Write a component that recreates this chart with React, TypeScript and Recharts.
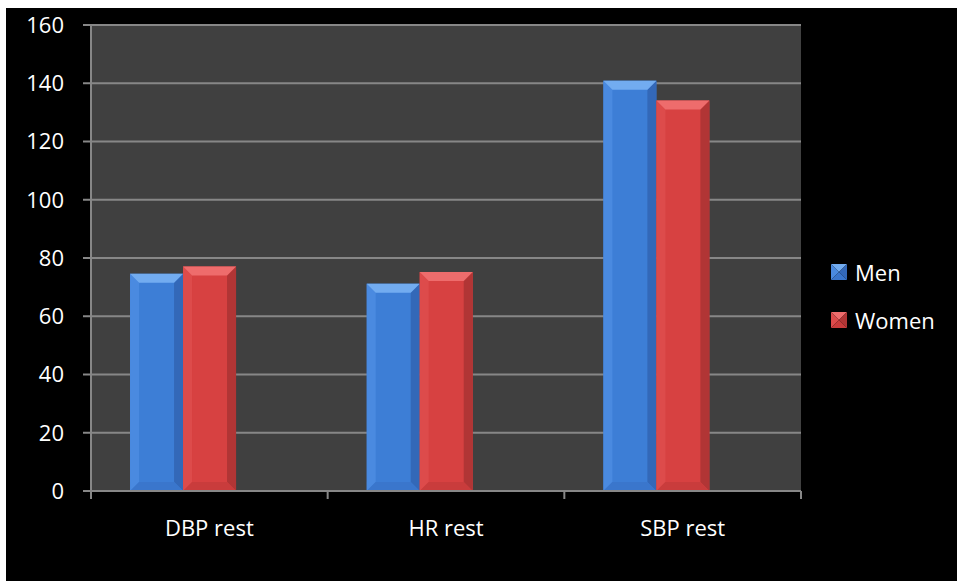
import React from 'react';
import { BarChart, Bar, XAxis, YAxis, CartesianGrid } from 'recharts';

const categories = ['DBP rest', 'HR rest', 'SBP rest'];
const menValues = [74.6, 71.2, 140.9];
const womenValues = [77.1, 75.2, 134.1];
const yTicks = [0, 20, 40, 60, 80, 100, 120, 140, 160];

const data = categories.map((name, i) => ({
  name,
  Men: menValues[i],
  Women: womenValues[i],
}));

const CHART_W = 951;
const CHART_H = 573;
const MARGIN = { top: 17, right: 156, bottom: 50, left: 25 };
const Y_AXIS_W = 60;
const PLOT_W = CHART_W - MARGIN.left - MARGIN.right - Y_AXIS_W;
const TICK_SIZE = 8;
const TICK_MARGIN = 21;
const FONT = '"Open Sans", "DejaVu Sans", sans-serif';
const GRID = '#878787';

const PALETTE = {
  blue: { face: '#3d7ed6', light: '#4a8ae0', top: '#72acf0', dark: '#3368b8', bottom: '#3a76cc' },
  red: { face: '#d74141', light: '#dd4b4b', top: '#ee6c6c', dark: '#b13535', bottom: '#c93c3c' },
};

type Tone = typeof PALETTE.blue;

const makeBevelBar = (tone: Tone) => (props: any) => {
  const { x, y, width, height } = props;
  if (!width || !height || height <= 0) return null;
  const b = Math.min(9, width / 4, height / 2);
  const r = x + width;
  const btm = y + height;
  return (
    <g>
      <rect x={x} y={y} width={width} height={height} fill={tone.face} />
      <polygon points={`${x},${y} ${x + b},${y + b} ${x + b},${btm - b} ${x},${btm}`} fill={tone.light} />
      <polygon points={`${r},${y} ${r - b},${y + b} ${r - b},${btm - b} ${r},${btm}`} fill={tone.dark} />
      <polygon points={`${x},${btm} ${x + b},${btm - b} ${r - b},${btm - b} ${r},${btm}`} fill={tone.bottom} />
      <polygon points={`${x},${y} ${r},${y} ${r - b},${y + b} ${x + b},${y + b}`} fill={tone.top} />
    </g>
  );
};

const MenBar = makeBevelBar(PALETTE.blue);
const WomenBar = makeBevelBar(PALETTE.red);

const LegendIcon = ({ tone }: { tone: Tone }) => (
  <svg width={16} height={16} style={{ display: 'block' }}>
    <polygon points="0,0 16,0 8,8" fill={tone.top} />
    <polygon points="0,0 8,8 0,16" fill={tone.light} />
    <polygon points="16,0 8,8 16,16" fill={tone.dark} />
    <polygon points="0,16 8,8 16,16" fill={tone.bottom} />
  </svg>
);

const legendItems = [
  { label: 'Men', tone: PALETTE.blue },
  { label: 'Women', tone: PALETTE.red },
];

const ChartLegend = () => (
  <div
    style={{
      position: 'absolute',
      left: 825,
      top: 240,
      width: 120,
      fontFamily: FONT,
      fontSize: 22,
      color: '#fff',
    }}
  >
    {legendItems.map((item) => (
      <div key={item.label} style={{ display: 'flex', alignItems: 'center', height: 48 }}>
        <LegendIcon tone={item.tone} />
        <span style={{ marginLeft: 8, lineHeight: '24px' }}>{item.label}</span>
      </div>
    ))}
  </div>
);

const CategoryTick = (props: any) => {
  const { x, y, payload, index } = props;
  const bw = PLOT_W / categories.length;
  const axisY = y - TICK_SIZE - TICK_MARGIN;
  const last = index === categories.length - 1;
  return (
    <g>
      <line x1={x - bw / 2} x2={x - bw / 2} y1={axisY} y2={axisY + TICK_SIZE} stroke={GRID} strokeWidth={2} />
      {last && (
        <line x1={x + bw / 2} x2={x + bw / 2} y1={axisY} y2={axisY + TICK_SIZE} stroke={GRID} strokeWidth={2} />
      )}
      <text x={x} y={y} dy="0.71em" textAnchor="middle" fill="#fff" fontFamily={FONT} fontSize={22}>
        {payload.value}
      </text>
    </g>
  );
};

export default function App() {
  return (
    <div style={{ position: 'fixed', left: 6, top: 8, width: CHART_W, height: CHART_H, background: '#000' }}>
      <BarChart
        width={CHART_W}
        height={CHART_H}
        data={data}
        margin={MARGIN}
        barCategoryGap="16.5%"
        barGap={0}
      >
        <CartesianGrid vertical={false} stroke={GRID} strokeWidth={2} fill="#404040" fillOpacity={1} />
        <XAxis
          dataKey="name"
          height={40}
          axisLine={{ stroke: GRID, strokeWidth: 2 }}
          tickLine={false}
          tickSize={TICK_SIZE}
          tickMargin={TICK_MARGIN}
          tick={<CategoryTick />}
          interval={0}
        />
        <YAxis
          width={Y_AXIS_W}
          domain={[0, 160]}
          ticks={yTicks}
          interval={0}
          axisLine={{ stroke: GRID, strokeWidth: 2 }}
          tickLine={{ stroke: GRID, strokeWidth: 2 }}
          tickSize={TICK_SIZE}
          tickMargin={19}
          tick={{ fill: '#fff', fontFamily: FONT, fontSize: 22 }}
        />
        <Bar dataKey="Men" shape={MenBar} isAnimationActive={false} />
        <Bar dataKey="Women" shape={WomenBar} isAnimationActive={false} />
        <Bar dataKey="Spare" legendType="none" isAnimationActive={false} />
      </BarChart>
      <ChartLegend />
    </div>
  );
}
